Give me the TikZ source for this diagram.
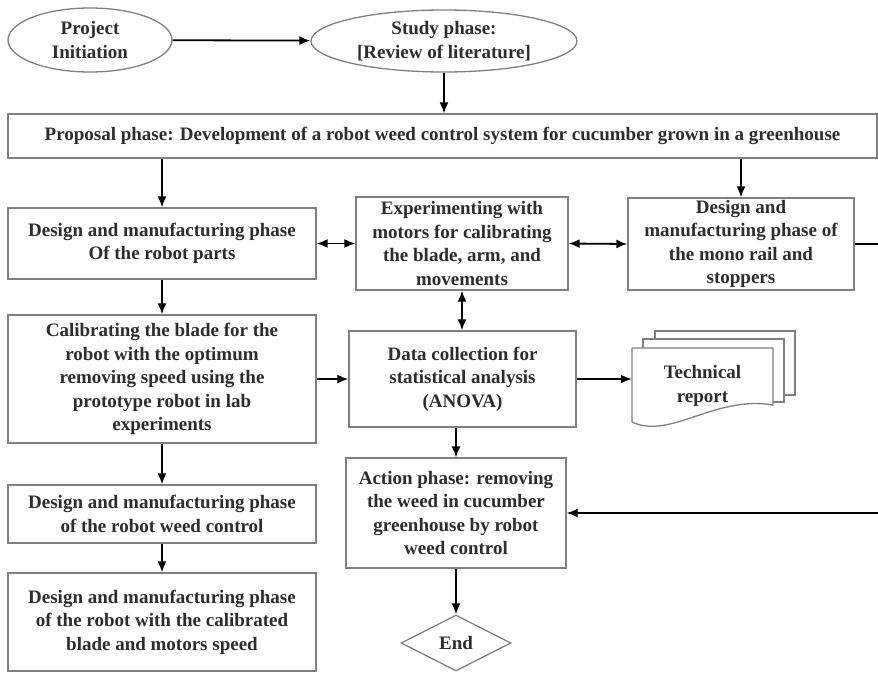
\documentclass[tikz,border=0pt]{standalone}
\usepackage{fontspec}
\setmainfont{Liberation Serif}
\usetikzlibrary{shapes.geometric,arrows.meta}
\definecolor{edgegray}{RGB}{128,128,128}
\definecolor{inkgray}{RGB}{45,45,45}
\tikzset{
  base/.style={font=\fontsize{19}{23.5}\selectfont\bfseries, text=inkgray, align=center, inner sep=0pt},
  box/.style={base, draw=edgegray, line width=1.3pt, fill=white},
  oval/.style={box, ellipse},
  decision/.style={box, diamond},
  flow/.style={-{Latex[length=11pt,width=9pt]}, line width=1.8pt, black},
  twoway/.style={{Latex[length=11pt,width=9pt]}-{Latex[length=11pt,width=9pt]}, line width=1.8pt, black},
  plainline/.style={line width=1.8pt, black},
  sheet/.style={draw=edgegray, line width=1.3pt, fill=white},
}
\begin{document}
\begin{tikzpicture}[x=1pt,y=-1pt]
\useasboundingbox[fill=white] (0,0) rectangle (878,672);

% start and study ovals
\node[oval, minimum width=164pt, minimum height=64pt] (init) at (90,40) {Project\\Initiation};
\node[oval, minimum width=266pt, minimum height=62pt] (study) at (444,41) {Study phase:\\{[Review of literature]}};

% proposal banner
\node[box, minimum width=869pt, minimum height=44pt] (proposal) at (442.5,136)
  {Proposal phase: Development of a robot weed control system for cucumber grown in a greenhouse};

% middle row
\node[box, minimum width=308pt, minimum height=71pt] (parts) at (162,243.5)
  {Design and manufacturing phase\\Of the robot parts};
\node[box, minimum width=212pt, minimum height=93pt] (exper) at (462,243.5)
  {Experimenting with\\motors for calibrating\\the blade, arm, and\\movements};
\node[box, minimum width=226pt, minimum height=92pt] (mono) at (741,244)
  {Design and\\manufacturing phase of\\the mono rail and\\stoppers};

% calibration and data collection
\node[box, minimum width=308pt, minimum height=128pt] (calib) at (162,379)
  {Calibrating the blade for the\\robot with the optimum\\removing speed using the\\prototype robot in lab\\experiments};
\node[box, minimum width=227pt, minimum height=96pt] (data) at (462.5,379)
  {Data collection for\\statistical analysis\\(ANOVA)};

% stacked report sheets
\draw[sheet] (655,331) rectangle (795,395);
\draw[sheet] (643,339) rectangle (784,402);
\draw[sheet] (632,422) -- (632,348) -- (773,348) -- (773,405)
  .. controls (715,395) and (670,440) .. (632,422) -- cycle;
\node[base, minimum width=141pt, minimum height=62pt] (report) at (702.5,379) {};
\node[base] (reporttext) at (702.5,386) {Technical\\report};

% action and end
\node[box, minimum width=220pt, minimum height=110pt] (action) at (456,513)
  {Action phase: removing\\the weed in cucumber\\greenhouse by robot\\weed control};
\node[decision, minimum width=110pt, minimum height=56pt] (endnode) at (456,643) {End};

% left column, lower part
\node[box, minimum width=308pt, minimum height=58pt] (weed) at (162,514)
  {Design and manufacturing phase\\of the robot weed control};
\node[box, minimum width=308pt, minimum height=98pt] (final) at (162,622)
  {Design and manufacturing phase\\of the robot with the calibrated\\blade and motors speed};

% connectors
\draw[flow] (init) -- (study);
\draw[flow] (study.south) -- (study.south |- proposal.north);
\draw[flow] (proposal.south -| parts.north) -- (parts.north);
\draw[flow] (proposal.south -| mono.north) -- (mono.north);
\draw[twoway] (parts.east) -- (exper.west);
\draw[twoway] (exper.east) -- (mono.west);
\draw[twoway] (exper.south) -- (exper.south |- data.north);
\draw[flow] (parts.south) -- (calib.north);
\draw[flow] (calib.east) -- (calib.east -| data.west);
\draw[flow] (data.east) -- (report.west);
\draw[flow] (data.south -| action.north) -- (action.north);
\draw[flow] (action.south) -- (endnode.north);
\draw[flow] (calib.south) -- (weed.north);
\draw[flow] (weed.south) -- (final.north);
% return line from the mono rail box round the right edge
\draw[plainline] (mono.east) -- ++(45,0) coordinate (rturn);
\draw[flow] (rturn) |- (action.east);
\end{tikzpicture}
\end{document}
